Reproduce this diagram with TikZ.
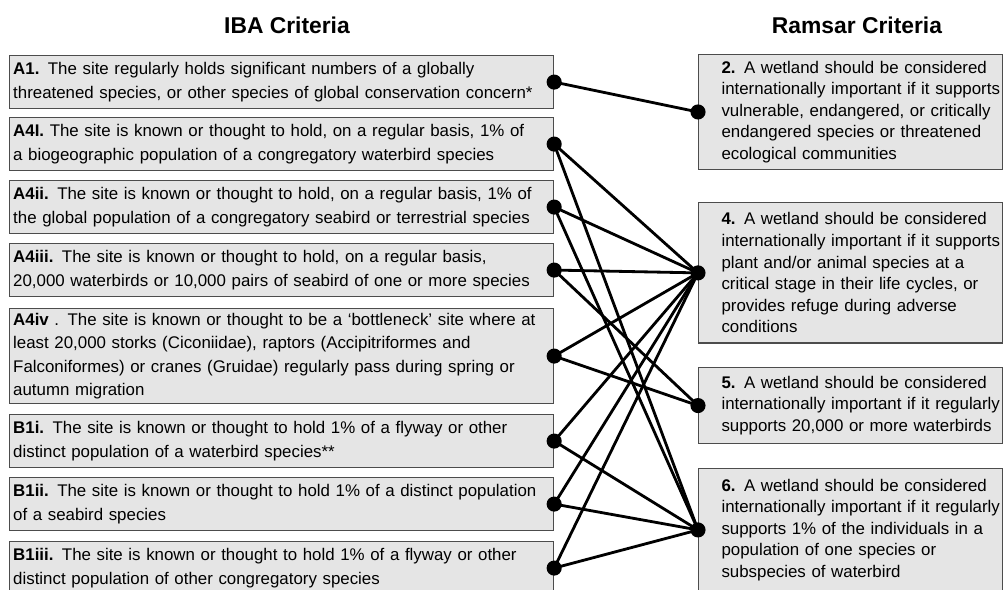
\documentclass[tikz,border=0pt]{standalone}
\usepackage{fontspec}
\setmainfont{Liberation Sans}
\tikzset{
  iba/.style={draw=black!70,fill=black!10,line width=0.8pt,anchor=north west,
    inner xsep=2pt,inner ysep=0pt,text width=305.5pt,align=left,
    font=\fontsize{9.6}{13.2}\selectfont},
  ramsar/.style={draw=black!70,fill=black!10,line width=0.8pt,anchor=north west,
    inner xsep=1pt,inner ysep=0pt,text width=170.9pt,align=left,
    font=\fontsize{9.6}{12.3}\selectfont,execute at begin node={\leftskip=12pt}},
  title/.style={font=\fontsize{13}{16}\selectfont\bfseries,anchor=base},
  link/.style={line width=1.6pt}
}
\begin{document}
\begin{tikzpicture}[x=0.02cm,y=-0.02cm]
  \useasboundingbox (0,0) rectangle (1004,589);
  \clip (0,0) rectangle (1004,589);
  % titles
  \node[title] (tiba) at (287,33) {IBA Criteria};
  \node[title] (tram) at (857,33) {Ramsar Criteria};
  % IBA criteria
  \node[iba,minimum height=30pt] (a1) at (9,55) {\textbf{A1.} The site regularly holds significant numbers of a globally\\threatened species, or other species of global conservation concern*};
  \node[iba,minimum height=30pt] (a4i) at (9,117) {\textbf{A4I.} The site is known or thought to hold, on a regular basis, 1\% of\\a biogeographic population of a congregatory waterbird species};
  \node[iba,minimum height=30pt] (a4ii) at (9,180) {\textbf{A4ii.} The site is known or thought to hold, on a regular basis, 1\% of\\the global population of a congregatory seabird or terrestrial species};
  \node[iba,minimum height=30pt] (a4iii) at (9,243) {\textbf{A4iii.} The site is known or thought to hold, on a regular basis,\\20,000 waterbirds or 10,000 pairs of seabird of one or more species};
  \node[iba,minimum height=53.9pt] (a4iv) at (9,308) {\textbf{A4iv} . The site is known or thought to be a ‘bottleneck’ site where at\\least 20,000 storks (Ciconiidae), raptors (Accipitriformes and\\Falconiformes) or cranes (Gruidae) regularly pass during spring or\\autumn migration};
  \node[iba,minimum height=30pt] (b1i) at (9,414) {\textbf{B1i.} The site is known or thought to hold 1\% of a flyway or other\\distinct population of a waterbird species**};
  \node[iba,minimum height=30pt] (b1ii) at (9,477) {\textbf{B1ii.} The site is known or thought to hold 1\% of a distinct population\\of a seabird species};
  \node[iba,minimum height=30pt] (b1iii) at (9,541) {\textbf{B1iii.} The site is known or thought to hold 1\% of a flyway or other\\distinct population of other congregatory species};
  % Ramsar criteria
  \node[ramsar,minimum height=65.2pt] (r2) at (698,54) {\textbf{2.} A wetland should be considered\\internationally important if it supports\\vulnerable, endangered, or critically\\endangered species or threatened\\ecological communities};
  \node[ramsar,minimum height=79.9pt] (r4) at (698,202) {\textbf{4.} A wetland should be considered\\internationally important if it supports\\plant and/or animal species at a\\critical stage in their life cycles, or\\provides refuge during adverse\\conditions};
  \node[ramsar,minimum height=43.1pt] (r5) at (698,367) {\textbf{5.} A wetland should be considered\\internationally important if it regularly\\supports 20,000 or more waterbirds};
  \node[ramsar,minimum height=69.7pt] (r6) at (698,468) {\textbf{6.} A wetland should be considered\\internationally important if it regularly\\supports 1\% of the individuals in a\\population of one species or\\subspecies of waterbird};
  % links
  \foreach \i/\j in {a1/r2,a4i/r4,a4i/r6,a4ii/r4,a4ii/r6,a4iii/r4,a4iii/r5,a4iv/r4,a4iv/r5,
                     b1i/r4,b1i/r6,b1ii/r4,b1ii/r6,b1iii/r4,b1iii/r6}
    \draw[link] (\i.east) -- (\j.west);
  % dots
  \foreach \i in {a1,a4i,a4ii,a4iii,a4iv,b1i,b1ii,b1iii}
    \fill (\i.east) circle (4.3pt);
  \foreach \j in {r2,r4,r5,r6}
    \fill (\j.west) circle (4.3pt);
\end{tikzpicture}
\end{document}
